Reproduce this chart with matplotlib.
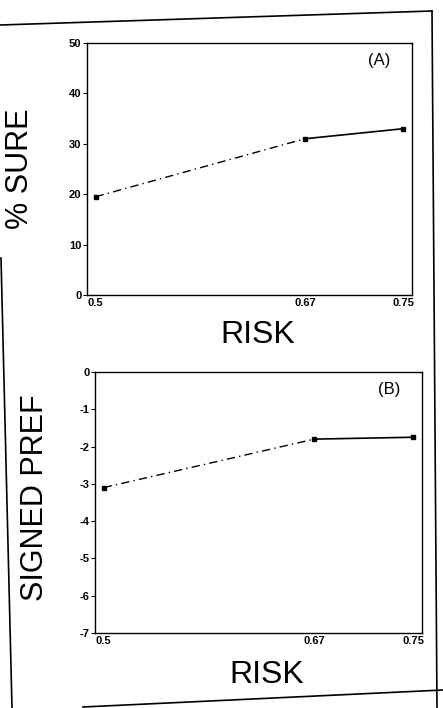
import matplotlib
matplotlib.use("Agg")
import matplotlib.pyplot as plt
from matplotlib.lines import Line2D

plt.rcParams["font.family"] = ["Liberation Sans", "DejaVu Sans"]
plt.rcParams["axes.unicode_minus"] = False

# data
risk = [0.5, 0.67, 0.75]
pct_sure = [19.5, 31.0, 33.0]
signed_pref = [-3.1, -1.8, -1.75]

sure_ticks = [0, 10, 20, 30, 40, 50]
pref_ticks = [0, -1, -2, -3, -4, -5, -6, -7]
risk_labels = ["0.5", "0.67", "0.75"]

fig = plt.figure(figsize=(4.43, 7.08), dpi=100)

W, H = 443.0, 708.0


def px_axes(left, top, right, bottom):
    return fig.add_axes([left / W, 1 - bottom / H, (right - left) / W, (bottom - top) / H])


def draw_panel(ax, y, yticks, ylim, ylabel, tag, xl_coords, yl_coords):
    # first segment looks broken / dashed in the print, second one solid
    ax.plot(risk[:2], y[:2], color="black", lw=1.0, ls=(0, (6, 3, 1, 3)))
    ax.plot(risk[1:], y[1:], color="black", lw=1.2)
    ax.plot(risk, y, "s", color="black", ms=3.5)
    ax.set_xlim(0.493, 0.757)
    ax.set_ylim(*ylim)
    ax.set_xticks(risk)
    ax.set_xticklabels(risk_labels, fontsize=8, fontweight="bold")
    ax.set_yticks(yticks)
    ax.set_yticklabels([str(t) for t in yticks], fontsize=8, fontweight="bold")
    ax.tick_params(axis="x", length=0, pad=2)
    ax.tick_params(axis="y", length=3, width=0.8, pad=1)
    for s in ax.spines.values():
        s.set_linewidth(1.0)
    ax.set_xlabel("RISK", fontsize=23)
    ax.set_ylabel(ylabel, fontsize=22)
    ax.xaxis.set_label_coords(*xl_coords)
    ax.yaxis.set_label_coords(*yl_coords)
    ax.text(0.90, 0.96, tag, transform=ax.transAxes, fontsize=12,
            ha="center", va="top")


ax1 = px_axes(87, 43, 412, 295)
draw_panel(ax1, pct_sure, sure_ticks, (0, 50), "% SURE", "(A)",
           (0.526, -0.10), (-0.16, 0.5))

ax2 = px_axes(95, 372, 422, 633)
draw_panel(ax2, signed_pref, pref_ticks, (-7, 0), "SIGNED PREF", "(B)",
           (0.526, -0.105), (-0.138, 0.52))

# scanned page border
def border(x0, y0, x1, y1):
    fig.add_artist(Line2D([x0 / W, x1 / W], [1 - y0 / H, 1 - y1 / H],
                          transform=fig.transFigure, color="black", lw=1.2))

border(0, 25, 432, 11)
border(432, 11, 437, 708)
border(83, 707, 443, 690)
border(1, 258, 12, 708)

fig.savefig("out.png", dpi=100)
